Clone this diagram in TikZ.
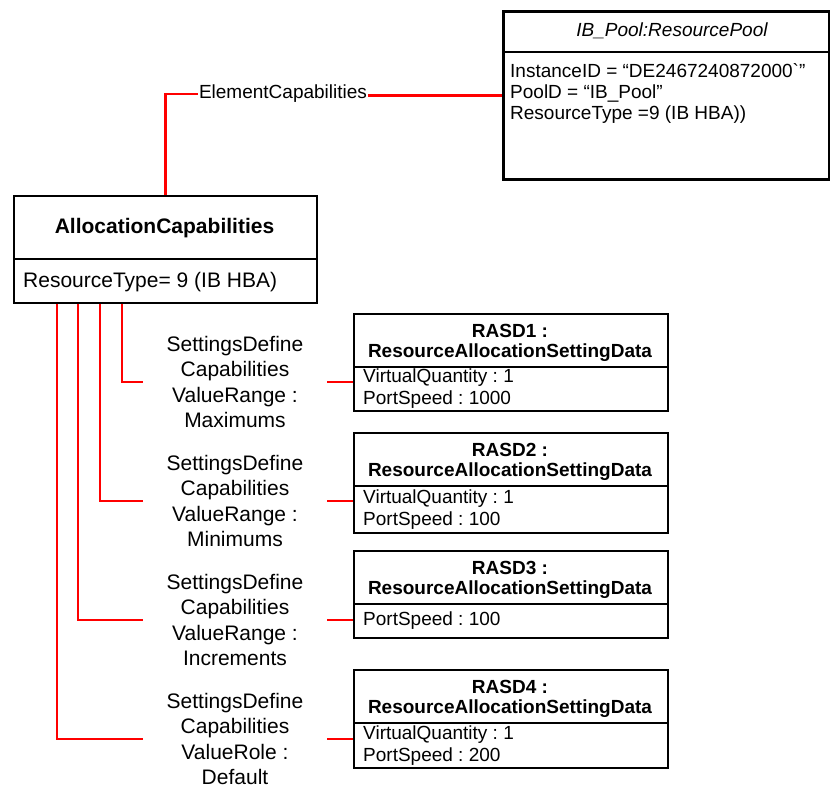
\documentclass[tikz,border=0pt]{standalone}
\usepackage{fontspec}
\setmainfont{Liberation Sans}
\begin{document}
\frenchspacing
\begin{tikzpicture}[x=1pt,y=-1pt,
  box/.style={draw=black,line width=1.6pt,inner sep=0pt,anchor=north west},
  poolbox/.style={box,line width=2.6pt},
  divider/.style={draw=black,line width=1.6pt},
  conn/.style={draw=red,line width=2.8pt},
  lbl/.style={inner sep=0pt,align=center,minimum width=184pt,font=\fontsize{21}{25.5}\selectfont},
  attr/.style={inner sep=0pt,anchor=west,align=left,font=\fontsize{19}{22}\selectfont},
  rtitle/.style={inner sep=0pt,align=center,font=\bfseries\fontsize{19}{20.5}\selectfont},
  ecl/.style={inner sep=1pt,fill=white,font=\fontsize{19}{21}\selectfont}]
\useasboundingbox (0,0) rectangle (830,788);

% Pool
\node[poolbox,minimum width=326pt,minimum height=168pt] (pool) at (502,10) {};
\draw[divider,line width=2.4pt] (pool.west |- 0,52) -- (pool.east |- 0,52);
\node[inner sep=0pt,font=\itshape\fontsize{19}{21}\selectfont] (pooltitle) at (672,30.5) {IB\_Pool:ResourcePool};
\node[attr,font=\fontsize{19}{21}\selectfont] (poolattr) at (510,93) {InstanceID = “DE2467240872000\textasciigrave”\\PoolD = “IB\_Pool”\\ResourceType =9 (IB HBA))};

% AllocationCapabilities
\node[box,minimum width=303pt,minimum height=107pt] (ac) at (13,195) {};
\draw[divider] (ac.west |- 0,259) -- (ac.east |- 0,259);
\node[inner sep=0pt,font=\bfseries\fontsize{21}{24}\selectfont] (actitle) at (164.5,228) {AllocationCapabilities};
\node[inner sep=0pt,anchor=west,font=\fontsize{21}{24}\selectfont] (acattr) at (23,282) {ResourceType= 9 (IB HBA)};

% ElementCapabilities
\node[ecl] (ec) at (283,94) {ElementCapabilities};
\draw[conn] (pool.west) -- (pool.west -| ec.east);
\draw[conn] (ec.west) -| (ac.north);

% RASD boxes
\node[box,minimum width=314pt,minimum height=97pt] (r1) at (353,313) {};
\draw[divider] (r1.west |- 0,367) -- (r1.east |- 0,367);
\node[rtitle] (r1t) at (510,343) {RASD1 :\\ResourceAllocationSettingData};
\node[attr] (r1a) at (363,389) {VirtualQuantity : 1\\PortSpeed : 1000};

\node[box,minimum width=314pt,minimum height=100pt] (r2) at (353,432) {};
\draw[divider] (r2.west |- 0,486) -- (r2.east |- 0,486);
\node[rtitle] (r2t) at (510,462) {RASD2 :\\ResourceAllocationSettingData};
\node[attr] (r2a) at (363,510) {VirtualQuantity : 1\\PortSpeed : 100};

\node[box,minimum width=314pt,minimum height=87pt] (r3) at (353,550) {};
\draw[divider] (r3.west |- 0,604) -- (r3.east |- 0,604);
\node[rtitle] (r3t) at (510,580) {RASD3 :\\ResourceAllocationSettingData};
\node[attr] (r3a) at (363,620.5) {PortSpeed : 100};

\node[box,minimum width=314pt,minimum height=98pt] (r4) at (353,669) {};
\draw[divider] (r4.west |- 0,723) -- (r4.east |- 0,723);
\node[rtitle] (r4t) at (510,699) {RASD4 :\\ResourceAllocationSettingData};
\node[attr] (r4a) at (363,746) {VirtualQuantity : 1\\PortSpeed : 200};

% Association labels
\node[lbl] (l1) at (235,382) {SettingsDefine\\Capabilities\\ValueRange :\\Maximums};
\node[lbl] (l2) at (235,501) {SettingsDefine\\Capabilities\\ValueRange :\\Minimums};
\node[lbl] (l3) at (235,620) {SettingsDefine\\Capabilities\\ValueRange :\\Increments};
\node[lbl] (l4) at (235,739) {SettingsDefine\\Capabilities\\ValueRole :\\Default};

% Connectors
\draw[conn] ([xshift=109pt]ac.south west) |- (l1.west);
\draw[conn] (l1.east) -- (l1.east -| r1.west);
\draw[conn] ([xshift=87pt]ac.south west) |- (l2.west);
\draw[conn] (l2.east) -- (l2.east -| r2.west);
\draw[conn] ([xshift=65pt]ac.south west) |- (l3.west);
\draw[conn] (l3.east) -- (l3.east -| r3.west);
\draw[conn] ([xshift=44pt]ac.south west) |- (l4.west);
\draw[conn] (l4.east) -- (l4.east -| r4.west);
\end{tikzpicture}
\end{document}
